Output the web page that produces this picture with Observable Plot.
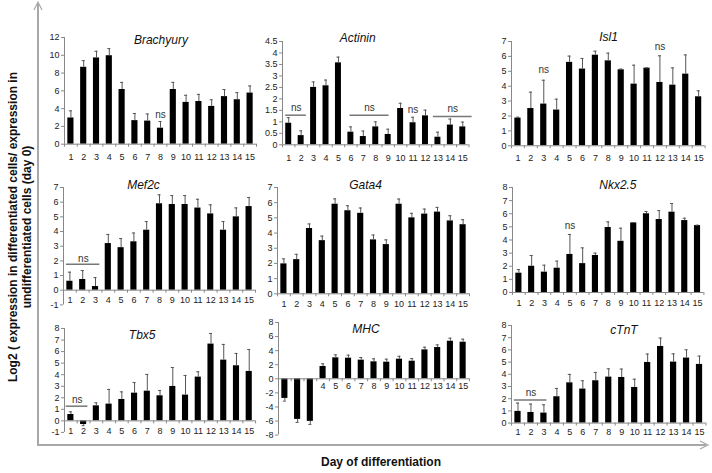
<!DOCTYPE html>
<html><head><meta charset="utf-8">
<script src="https://cdn.jsdelivr.net/npm/d3@7"></script>
<script src="https://cdn.jsdelivr.net/npm/@observablehq/plot@0.6"></script>
<style>
body{margin:0;background:#fff;font-family:"Liberation Sans",Arial,sans-serif;}
#wrap{position:relative;width:712px;height:473px;overflow:hidden;background:#fff;}
#wrap svg{position:absolute;}
</style></head><body><div id="wrap"></div>
<script>
const days = d3.range(1, 16);

const brachyuryValues = [2.95, 8.65, 9.7, 9.95, 6.15, 2.65, 2.6, 1.8, 6.15, 4.7, 4.8, 4.25, 5.35, 5.0, 5.75];
const brachyuryErrors = [0.8, 0.75, 0.75, 0.8, 0.8, 0.8, 0.8, 0.75, 0.8, 0.8, 0.8, 0.75, 0.8, 0.8, 0.8];
const actininValues = [0.94, 0.4, 2.5, 2.57, 3.57, 0.55, 0.36, 0.78, 0.45, 1.58, 0.96, 1.26, 0.33, 0.86, 0.78];
const actininErrors = [0.24, 0.21, 0.24, 0.25, 0.25, 0.23, 0.24, 0.22, 0.23, 0.23, 0.24, 0.25, 0.22, 0.26, 0.21];
const isl1Values = [1.86, 2.5, 2.8, 2.4, 5.6, 5.15, 6.08, 5.7, 5.1, 4.14, 5.21, 4.25, 4.07, 4.81, 3.29];
const isl1Errors = [0.06, 1.1, 1.6, 0.73, 0.42, 0.71, 0.27, 0.52, 0.05, 1.27, 0.02, 1.79, 1.16, 1.29, 0.4];
const mef2cValues = [0.61, 0.73, 0.25, 3.18, 2.9, 3.3, 4.09, 5.89, 5.84, 5.84, 5.6, 5.2, 4.09, 5.0, 5.7];
const mef2cErrors = [0.62, 0.61, 0.61, 0.62, 0.62, 0.6, 0.59, 0.61, 0.61, 0.61, 0.6, 0.62, 0.59, 0.61, 0.62];
const gata4Values = [1.97, 2.25, 4.3, 3.5, 5.9, 5.47, 5.3, 3.55, 3.24, 5.9, 5.0, 5.25, 5.38, 4.8, 4.55];
const gata4Errors = [0.33, 0.35, 0.3, 0.3, 0.35, 0.33, 0.35, 0.32, 0.31, 0.34, 0.3, 0.33, 0.31, 0.34, 0.33];
const nkx25Values = [1.47, 2.0, 1.55, 1.85, 2.9, 2.2, 2.82, 4.95, 3.9, 5.3, 6.0, 5.56, 6.12, 5.48, 5.1];
const nkx25Errors = [0.28, 0.82, 0.53, 0.54, 1.52, 1.2, 0.18, 0.43, 1.0, 0.03, 0.17, 0.68, 0.66, 0.18, 0.03];
const tbx5Values = [0.55, -0.32, 1.3, 1.45, 1.85, 2.4, 2.57, 2.17, 2.98, 2.23, 3.79, 6.65, 5.26, 4.77, 4.28];
const tbx5Errors = [0.23, 0.1, 0.26, 1.27, 0.66, 0.92, 1.45, 0.46, 1.64, 1.7, 0.46, 0.92, 1.36, 1.07, 1.9];
const mhcValues = [-2.79, -5.77, -6.05, 1.75, 2.98, 2.93, 2.65, 2.41, 2.36, 2.79, 2.5, 4.11, 4.44, 5.34, 5.2];
const mhcErrors = [0.38, 0.43, 0.43, 0.38, 0.42, 0.43, 0.38, 0.43, 0.43, 0.41, 0.38, 0.38, 0.38, 0.43, 0.43];
const ctntValues = [0.96, 0.87, 0.82, 2.16, 3.3, 2.79, 3.47, 3.77, 3.74, 2.92, 4.97, 6.28, 5.0, 5.33, 4.81];
const ctntErrors = [0.68, 0.69, 0.68, 0.68, 0.69, 0.68, 0.68, 0.68, 0.69, 0.68, 0.69, 0.69, 0.68, 0.68, 0.68];

const yAxisTitle = ["Log2 ( expression in differentiated cells/ expression in", "undifferentiated cells (day 0)"];
const xAxisTitle = "Day of differentiation";

// layout: box = [left px, right px, top px (domain max), bottom px (domain min)]
const panels = [
  {title: "Brachyury", values: brachyuryValues, errors: brachyuryErrors, domain: [0, 12], ticks: d3.range(0, 13, 2),
   box: [63.6, 255.6, 37.3, 144], titleAt: [160, 35], labelDy: 13,
   nsLabels: [{day: 8, y: 3.34}], nsLines: []},
  {title: "Actinin", values: actininValues, errors: actininErrors, domain: [0, 4.5], ticks: d3.range(0, 4.51, 0.5),
   box: [281.8, 468.3, 40.7, 144], titleAt: [357, 33], labelDy: 13,
   nsLabels: [{day: 1.6, y: 1.6}, {day: 7.5, y: 1.6}, {day: 11, y: 1.52}, {day: 14.2, y: 1.58}],
   nsLines: [{from: 0.76, to: 2.42, y: 1.29}, {from: 5.93, to: 9.07, y: 1.29}, {from: 12.64, to: 15.75, y: 1.23}]},
  {title: "Isl1", values: isl1Values, errors: isl1Errors, domain: [0, 7], ticks: d3.range(0, 8),
   box: [510.9, 704.5, 40.7, 145], titleAt: [608, 32], labelDy: 12,
   nsLabels: [{day: 3, y: 5.08}, {day: 12, y: 6.62}], nsLines: []},
  {title: "Mef2c", values: mef2cValues, errors: mef2cErrors, domain: [-1, 7], ticks: d3.range(-1, 8),
   box: [63, 255, 187.3, 304.7], titleAt: [143, 180], labelDy: 10,
   nsLabels: [{day: 2.05, y: 2.16}], nsLines: [{from: 0.73, to: 3.34, y: 1.77}]},
  {title: "Gata4", values: gata4Values, errors: gata4Errors, domain: [0, 7], ticks: d3.range(0, 8),
   box: [277, 469, 186.7, 293], titleAt: [365, 180], labelDy: 10.5,
   nsLabels: [], nsLines: []},
  {title: "Nkx2.5", values: nkx25Values, errors: nkx25Errors, domain: [0, 8], ticks: d3.range(0, 9),
   box: [511.6, 703, 187.3, 292.3], titleAt: [617, 180], labelDy: 11,
   nsLabels: [{day: 5, y: 5.05}], nsLines: []},
  {title: "Tbx5", values: tbx5Values, errors: tbx5Errors, domain: [-1, 8], ticks: d3.range(-1, 9),
   box: [64.3, 255.4, 328.3, 432.2], titleAt: [142, 330], labelDy: 10,
   nsLabels: [{day: 1.5, y: 1.79}], nsLines: [{from: 0.63, to: 2.34, y: 1.27}]},
  {title: "MHC", values: mhcValues, errors: mhcErrors, domain: [-8, 8], ticks: d3.range(-8, 9, 2),
   box: [277.6, 468.6, 321.7, 434.3], titleAt: [365, 324], labelDy: 7, hideLabels: [1, 2, 3],
   nsLabels: [], nsLines: []},
  {title: "cTnT", values: ctntValues, errors: ctntErrors, domain: [0, 8], ticks: d3.range(0, 9),
   box: [510.5, 705, 324.7, 422.3], titleAt: [623, 325], labelDy: 9.5,
   nsLabels: [{day: 2, y: 2.51}], nsLines: [{from: 0.72, to: 3.23, y: 1.89}]}
];

const wrap = document.getElementById("wrap");

// outer decorative axes and titles
const deco = d3.create("svg").attr("width", 712).attr("height", 473).style("left", "0px").style("top", "0px");
deco.append("line").attr("x1", 38).attr("y1", 445).attr("x2", 38).attr("y2", 4).attr("stroke", "#a8a8a8").attr("stroke-width", 2);
deco.append("path").attr("d", "M34,10 L38,2 L42,10").attr("fill", "none").attr("stroke", "#a8a8a8").attr("stroke-width", 1.2);
deco.append("line").attr("x1", 37).attr("y1", 445).attr("x2", 706).attr("y2", 445).attr("stroke", "#a8a8a8").attr("stroke-width", 2);
deco.append("path").attr("d", "M700,441 L708,445 L700,449").attr("fill", "none").attr("stroke", "#a8a8a8").attr("stroke-width", 1.2);
yAxisTitle.forEach((t, i) => {
  deco.append("text").attr("transform", `translate(${14 + i * 14},227) rotate(-90)`)
    .attr("text-anchor", "middle").attr("dominant-baseline", "middle")
    .attr("font-family", "Liberation Sans, Arial, sans-serif").attr("font-size", 12).attr("font-weight", "bold")
    .attr("fill", "#111").text(t);
});
deco.append("text").attr("x", 381).attr("y", 463).attr("text-anchor", "middle").attr("dominant-baseline", "middle")
  .attr("font-family", "Liberation Sans, Arial, sans-serif").attr("font-size", 12).attr("font-weight", "bold")
  .attr("fill", "#111").text(xAxisTitle);
wrap.appendChild(deco.node());

function panel(p) {
  const [bx0, bx1, by0, by1] = p.box;
  const padL = 32, padR = 8, padT = 24, padB = 18;
  const W = bx1 - bx0 + padL + padR, H = by1 - by0 + padT + padB;
  const data = days.map((d, i) => ({day: d, v: p.values[i], end: p.values[i] + Math.sign(p.values[i]) * p.errors[i]}));
  const unitsPerPx = (p.domain[1] - p.domain[0]) / (by1 - by0);
  const tickLen = 3 * unitsPerPx;
  const labelDays = days.filter(d => !(p.hideLabels || []).includes(d));
  const bounds = d3.range(0.5, 16, 1);
  const svg = Plot.plot({
    width: W, height: H,
    marginLeft: padL, marginRight: padR, marginTop: padT, marginBottom: padB,
    style: {background: "transparent", fontFamily: "Liberation Sans, Arial, sans-serif", fontSize: "9px", color: "#222", overflow: "visible"},
    x: {type: "linear", domain: [0.5, 15.5], axis: null},
    y: {domain: p.domain, axis: null},
    marks: [
      Plot.ruleX([0.5], {stroke: "#888", strokeWidth: 1}),
      Plot.ruleY(p.ticks, {x1: 0.5, x2: 0.5 - 0.23, stroke: "#888"}),
      Plot.text(p.ticks, {x: 0.5, y: d => d, dx: -5, textAnchor: "end", text: d => String(d), fill: "#222", fontSize: 9}),
      Plot.rectY(data, {x1: d => d.day - 0.24, x2: d => d.day + 0.24, y1: 0, y2: "v", fill: "#000"}),
      Plot.ruleX(data, {x: "day", y1: "v", y2: "end", stroke: "#555", strokeWidth: 1}),
      Plot.ruleY(data, {y: "end", x1: d => d.day - 0.12, x2: d => d.day + 0.12, stroke: "#555", strokeWidth: 1}),
      Plot.ruleY([0], {x1: 0.5, x2: 15.5, stroke: "#888", strokeWidth: 1}),
      Plot.ruleX(bounds, {x: d => d, y1: 0, y2: -tickLen, stroke: "#888"}),
      Plot.text(labelDays, {x: d => d, y: 0, dy: p.labelDy, text: d => String(d), fill: "#222", fontSize: 9}),
      Plot.text([p.title], {frameAnchor: "top", dx: p.titleAt[0] - (bx0 + bx1) / 2, dy: p.titleAt[1] - by0,
        text: d => d, fontStyle: "italic", fontSize: 12, fill: "#111"}),
      Plot.ruleY(p.nsLines, {y: "y", x1: "from", x2: "to", stroke: "#777", strokeWidth: 1.5}),
      Plot.text(p.nsLabels, {x: "day", y: "y", text: () => "ns", fontSize: 10, fill: "#333"})
    ]
  });
  svg.style.position = "absolute";
  svg.style.left = (bx0 - padL) + "px";
  svg.style.top = (by0 - padT) + "px";
  svg.style.maxWidth = "none";
  wrap.appendChild(svg);
}
panels.forEach(panel);
</script>
</body></html>
